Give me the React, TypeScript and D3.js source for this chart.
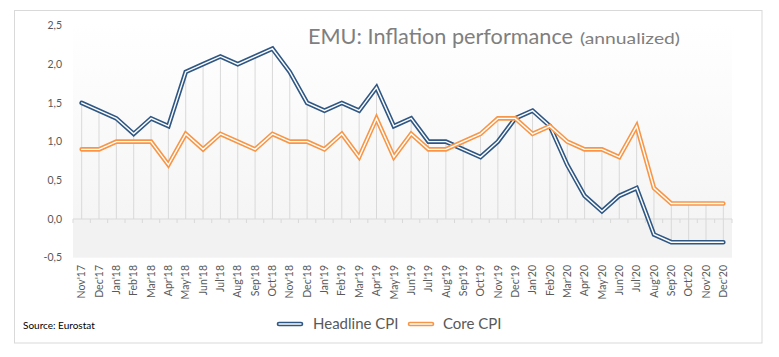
import React from "react";
import * as d3 from "d3";

const months = [
  "Nov'17","Dec'17","Jan'18","Feb'18","Mar'18","Apr'18","May'18","Jun'18","Jul'18","Aug'18","Sep'18","Oct'18",
  "Nov'18","Dec'18","Jan'19","Feb'19","Mar'19","Apr'19","May'19","Jun'19","Jul'19","Aug'19","Sep'19","Oct'19",
  "Nov'19","Dec'19","Jan'20","Feb'20","Mar'20","Apr'20","May'20","Jun'20","Jul'20","Aug'20","Sep'20","Oct'20",
  "Nov'20","Dec'20",
];
const headlineCPI = [
  1.5, 1.4, 1.3, 1.1, 1.3, 1.2, 1.9, 2.0, 2.1, 2.0, 2.1, 2.2,
  1.9, 1.5, 1.4, 1.5, 1.4, 1.7, 1.2, 1.3, 1.0, 1.0, 0.9, 0.8,
  1.0, 1.3, 1.4, 1.2, 0.7, 0.3, 0.1, 0.3, 0.4, -0.2, -0.3, -0.3,
  -0.3, -0.3,
];
const coreCPI = [
  0.9, 0.9, 1.0, 1.0, 1.0, 0.7, 1.1, 0.9, 1.1, 1.0, 0.9, 1.1,
  1.0, 1.0, 0.9, 1.1, 0.8, 1.3, 0.8, 1.1, 0.9, 0.9, 1.0, 1.1,
  1.3, 1.3, 1.1, 1.2, 1.0, 0.9, 0.9, 0.8, 1.2, 0.4, 0.2, 0.2,
  0.2, 0.2,
];
const yTicks = [-0.5, 0, 0.5, 1.0, 1.5, 2.0, 2.5];
const seriesNames = ["Headline CPI", "Core CPI"];
const seriesColors = ["#2f5783", "#f79646"];

const W = 779;
const H = 357;
const FONT = "Lato, 'Open Sans', 'Liberation Sans', sans-serif";

export default function App() {
  const x = d3.scaleBand<string>().domain(months).range([73, 732]).padding(0);
  const y = d3.scaleLinear().domain([-0.5, 2.5]).range([257.7, 25.5]);
  const cx = (m: string) => (x(m) as number) + x.bandwidth() / 2;
  const line = d3
    .line<number>()
    .x((_, i) => cx(months[i]))
    .y((v) => y(v));
  const fmt = (v: number) => d3.format(".1f")(v).replace(".", ",").replace("−", "-");
  const series = [headlineCPI, coreCPI];
  const y0 = y(0);
  const boundaries = months.map((m) => x(m) as number).concat([732]);

  return (
    <svg width={W} height={H} style={{ position: "absolute", left: 0, top: 0, fontFamily: FONT }}>
      <defs>
        <linearGradient id="pg" x1="0" y1="0" x2="0" y2="1">
          <stop offset="0" stopColor="#ffffff" />
          <stop offset="1" stopColor="#f5f5f5" />
        </linearGradient>
      </defs>
      <rect x={0} y={0} width={W} height={H} fill="#ffffff" />
      <rect x={14.5} y={10.5} width={747.5} height={332.5} fill="#ffffff" stroke="#d9d9d9" strokeWidth={1} />
      {/* plot area background */}
      <rect x={73} y={22} width={659} height={y0 - 22} fill="url(#pg)" />
      <rect x={73} y={y0} width={659} height={y(-0.5) - y0} fill="#f2f2f2" />

      {/* title */}
      <text x={308} y={44} fill="#7f7f7f" fontSize={21} textLength={265} lengthAdjust="spacingAndGlyphs">
        EMU: Inflation performance
      </text>
      <text x={580} y={44} fill="#7f7f7f" fontSize={16} textLength={100} lengthAdjust="spacingAndGlyphs">
        (annualized)
      </text>

      {/* y axis labels */}
      {yTicks.map((t) => (
        <text key={t} x={62} y={y(t)} dy="0.35em" textAnchor="end" fontSize={10.5} fill="#595959">
          {fmt(t)}
        </text>
      ))}

      {/* drop lines */}
      {months.map((m, i) => {
        const hi = Math.max(headlineCPI[i], coreCPI[i], 0);
        const lo = Math.min(headlineCPI[i], coreCPI[i], 0);
        return (
          <line key={m} x1={cx(m)} x2={cx(m)} y1={y(hi)} y2={y(lo)} stroke="#d9d9d9" strokeWidth={1} />
        );
      })}

      {/* category axis */}
      <line x1={73} x2={732} y1={y0} y2={y0} stroke="#d9d9d9" strokeWidth={1} />
      {boundaries.map((b, i) => (
        <line key={i} x1={b} x2={b} y1={y0} y2={y0 + 4} stroke="#d9d9d9" strokeWidth={1} />
      ))}
      {months.map((m) => (
        <text
          key={m}
          transform={`translate(${cx(m)},265) rotate(-90)`}
          dy="0.35em"
          textAnchor="end"
          fontSize={10.5}
          fill="#595959"
        >
          {m}
        </text>
      ))}

      {/* series lines (compound: colored outer, white inner) */}
      {series.map((s, k) => (
        <g key={k}>
          <path d={line(s) || ""} fill="none" stroke={seriesColors[k]} strokeWidth={4.6} strokeLinejoin="miter" strokeLinecap="round" />
          <path d={line(s) || ""} fill="none" stroke="#ffffff" strokeWidth={1.4} strokeLinejoin="miter" strokeLinecap="round" />
        </g>
      ))}

      {/* legend */}
      {seriesNames.map((n, k) => {
        const sx = k === 0 ? 279 : 410;
        const tx = k === 0 ? 313 : 443;
        return (
          <g key={n}>
            <line x1={sx} x2={sx + 22} y1={324} y2={324} stroke={seriesColors[k]} strokeWidth={4.6} strokeLinecap="round" />
            <line x1={sx} x2={sx + 22} y1={324} y2={324} stroke="#ffffff" strokeWidth={1.4} strokeLinecap="round" />
            <text x={tx} y={324} dy="0.35em" fontSize={15} fill="#595959">
              {n}
            </text>
          </g>
        );
      })}

      {/* source */}
      <text x={23} y={325} dy="0.35em" fontSize={10} fill="#000000">
        Source: Eurostat
      </text>
    </svg>
  );
}
